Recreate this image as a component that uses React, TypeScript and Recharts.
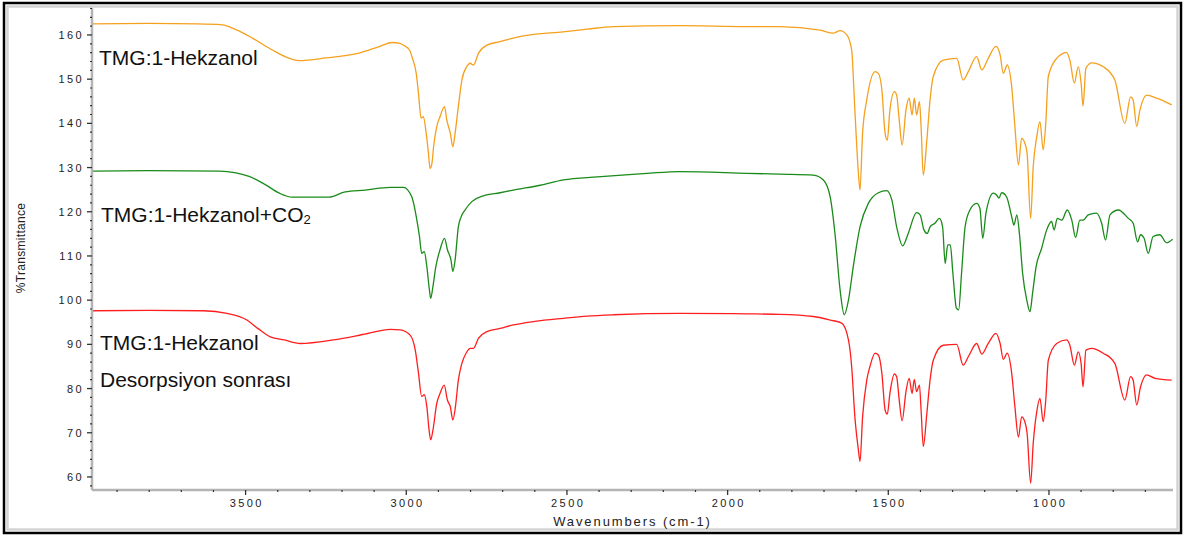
import React from 'react';
import { LineChart, Line, XAxis, YAxis } from 'recharts';

// [wavenumber (cm-1), %T] pairs for each spectrum
const tmgHekzanol: [number, number][] = [
  [3977, 162.5], [3800, 162.6], [3650, 162.5], [3573, 162.3], [3530, 161.2], [3479, 159.3], [3417, 156.6],
  [3377, 155.1], [3333, 154.2], [3250, 154.8], [3147, 155.9], [3080, 157.5], [3044, 158.3], [3020, 158.1],
  [3007, 157.6], [2990, 156.6], [2982, 155.0], [2969, 151.3], [2962, 146.8], [2954, 141.2], [2947, 141.5],
  [2938, 137.8], [2931, 133.2], [2926, 129.8], [2920, 131.0], [2915, 134.7], [2905, 139.3], [2895, 141.5],
  [2881, 143.8], [2874, 140.8], [2863, 137.8], [2855, 134.7], [2848, 137.8], [2838, 143.8], [2827, 149.8],
  [2812, 152.8], [2801, 153.6], [2791, 153.2], [2775, 155.9], [2749, 157.7], [2708, 158.5], [2667, 159.3],
  [2615, 160.0], [2512, 160.7], [2437, 161.3], [2356, 161.9], [2148, 162.1], [1940, 161.9], [1837, 161.9],
  [1712, 161.1], [1671, 160.4], [1650, 161.0], [1629, 160.0], [1614, 156.6], [1604, 143.0], [1593, 128.7],
  [1588, 124.9], [1580, 137.8], [1567, 145.3], [1541, 151.7], [1531, 151.3], [1520, 147.6], [1510, 137.8],
  [1503, 136.2], [1495, 143.0], [1481, 147.2], [1474, 146.4], [1466, 140.8], [1457, 135.1], [1445, 143.0],
  [1435, 145.7], [1426, 141.9], [1419, 145.7], [1412, 141.9], [1403, 144.9], [1398, 139.3], [1391, 128.3],
  [1380, 136.2], [1370, 145.3], [1360, 150.6], [1329, 154.3], [1287, 154.7], [1267, 149.8], [1251, 151.7],
  [1225, 155.1], [1209, 152.1], [1189, 154.7], [1165, 157.4], [1152, 155.5], [1142, 151.3], [1130, 153.2],
  [1116, 148.3], [1106, 139.3], [1095, 130.6], [1085, 136.6], [1075, 135.5], [1068, 133.2], [1057, 118.5],
  [1049, 130.2], [1038, 137.0], [1028, 140.4], [1018, 134.0], [1010, 140.0], [1002, 150.6], [976, 154.7],
  [945, 156.0], [935, 154.3], [921, 149.1], [909, 152.8], [900, 149.1], [894, 143.9], [885, 152.5],
  [867, 153.7], [831, 152.8], [795, 149.8], [764, 140.0], [746, 146.0], [738, 145.3], [727, 139.3],
  [717, 143.0], [696, 146.4], [665, 145.7], [618, 144.2],
];

const tmgHekzanolCO2: [number, number][] = [
  [3977, 129.2], [3800, 129.3], [3582, 129.2], [3530, 128.8], [3489, 128.0], [3440, 126.2], [3395, 124.2],
  [3355, 123.3], [3240, 123.3], [3190, 124.5], [3128, 124.9], [3050, 125.5], [3009, 125.5], [2983, 123.4],
  [2967, 118.1], [2959, 114.4], [2952, 110.6], [2944, 111.0], [2936, 107.6], [2928, 102.3], [2924, 100.4],
  [2917, 103.1], [2908, 107.6], [2895, 111.4], [2881, 114.0], [2872, 111.4], [2861, 109.1], [2855, 106.5],
  [2848, 109.1], [2838, 116.6], [2829, 118.9], [2817, 120.4], [2796, 122.3], [2760, 123.6], [2708, 124.3],
  [2667, 124.9], [2583, 126.0], [2511, 127.2], [2405, 127.9], [2251, 128.7], [2148, 129.1], [1940, 128.7],
  [1837, 128.5], [1733, 128.3], [1702, 127.2], [1681, 123.4], [1666, 115.1], [1650, 102.3], [1637, 96.7],
  [1624, 100.0], [1609, 107.6], [1588, 116.6], [1562, 121.9], [1531, 124.3], [1505, 124.8], [1489, 122.7],
  [1474, 116.6], [1455, 112.3], [1438, 115.1], [1412, 119.8], [1401, 119.3], [1389, 115.9], [1379, 115.1],
  [1370, 116.6], [1355, 117.4], [1341, 118.5], [1331, 116.6], [1323, 108.3], [1315, 112.5], [1307, 112.5],
  [1299, 106.1], [1288, 98.2], [1281, 97.8], [1272, 106.1], [1261, 116.6], [1246, 120.4], [1225, 121.9],
  [1215, 120.8], [1206, 114.0], [1196, 119.7], [1173, 124.2], [1163, 123.8], [1156, 123.1], [1147, 124.3],
  [1132, 123.4], [1116, 118.9], [1109, 117.0], [1100, 119.3], [1092, 115.1], [1082, 106.1], [1069, 100.0],
  [1059, 97.4], [1051, 101.6], [1040, 107.6], [1023, 111.7], [1007, 115.9], [992, 117.8], [984, 115.9],
  [974, 118.5], [960, 118.1], [943, 120.4], [929, 118.1], [917, 114.2], [904, 118.1], [893, 118.1],
  [878, 119.3], [852, 119.7], [836, 117.4], [824, 113.6], [810, 119.3], [784, 120.4], [753, 118.5],
  [738, 117.4], [724, 113.2], [715, 114.8], [704, 114.0], [691, 110.6], [676, 114.4], [655, 114.8],
  [634, 113.0], [615, 113.8],
];

const tmgHekzanolDesorption: [number, number][] = [
  [3977, 97.6], [3800, 97.7], [3632, 97.6], [3558, 97.0], [3496, 95.5], [3460, 93.5], [3423, 91.7],
  [3380, 91.0], [3330, 90.2], [3227, 91.0], [3123, 92.4], [3050, 93.4], [3019, 93.3], [2988, 92.1],
  [2972, 88.7], [2962, 83.5], [2952, 78.2], [2944, 78.6], [2936, 75.9], [2929, 70.6], [2924, 68.4],
  [2917, 70.6], [2905, 76.7], [2895, 78.9], [2882, 80.8], [2872, 77.4], [2863, 75.9], [2855, 72.9],
  [2847, 75.9], [2838, 81.9], [2827, 85.7], [2814, 88.0], [2801, 89.1], [2791, 89.1], [2775, 91.4],
  [2749, 92.9], [2708, 93.6], [2667, 94.4], [2600, 95.2], [2511, 95.9], [2437, 96.4], [2355, 96.7],
  [2148, 97.0], [1940, 96.9], [1837, 96.8], [1733, 96.3], [1681, 95.5], [1645, 94.8], [1624, 91.0],
  [1614, 85.0], [1604, 73.6], [1593, 66.1], [1588, 63.5], [1580, 73.6], [1567, 81.9], [1557, 85.0],
  [1541, 88.0], [1531, 87.6], [1520, 83.5], [1510, 75.2], [1503, 74.2], [1495, 78.9], [1481, 83.3],
  [1474, 82.7], [1466, 77.4], [1457, 72.7], [1445, 79.3], [1435, 82.3], [1426, 78.9], [1419, 82.1],
  [1412, 79.3], [1403, 80.8], [1398, 75.2], [1391, 66.9], [1380, 74.4], [1370, 81.9], [1360, 86.4],
  [1329, 89.8], [1287, 90.0], [1267, 85.3], [1251, 87.2], [1225, 90.2], [1209, 87.8], [1189, 90.2],
  [1165, 92.5], [1152, 90.2], [1142, 86.6], [1130, 88.0], [1116, 83.5], [1106, 75.9], [1095, 69.0],
  [1085, 73.6], [1075, 72.5], [1068, 69.9], [1057, 58.6], [1049, 67.6], [1038, 74.8], [1028, 77.8],
  [1018, 72.5], [1010, 77.4], [1002, 86.4], [976, 90.2], [945, 91.0], [935, 89.8], [921, 85.3],
  [909, 88.3], [900, 85.7], [894, 80.4], [885, 88.7], [867, 89.1], [831, 88.0], [795, 85.7],
  [764, 77.4], [746, 82.7], [738, 81.9], [727, 76.3], [715, 80.4], [696, 83.1], [670, 82.3],
  [618, 81.9],
];

// axis ticks: minor every 100 cm-1 / 2 %T, labelled every 500 / 10
const xTicks = Array.from({ length: 33 }, (_, i) => 700 + i * 100);
const yTicks = Array.from({ length: 55 }, (_, i) => 58 + i * 2);

const toPoints = (pairs: [number, number][]) => pairs.map(([wn, t]) => ({ wn, t }));

const FONT = '"Liberation Sans", Arial, sans-serif';

const XTick = (props: any) => {
  const { x, y, payload } = props;
  const major = payload.value % 500 === 0;
  return (
    <g>
      <line x1={x} x2={x} y1={y} y2={y + (major ? 5 : 2)} stroke="#333" strokeWidth={major ? 1.3 : 1.2} />
      {major && (
        <text x={x + 1.2} y={y + 17} textAnchor="middle" fontSize={11} letterSpacing={2.4} fill="#222" fontFamily={FONT}>
          {payload.value}
        </text>
      )}
    </g>
  );
};

const YTick = (props: any) => {
  const { x, y, payload } = props;
  const major = payload.value % 10 === 0;
  return (
    <g>
      <line x1={x - (major ? 5 : 2)} x2={x} y1={y} y2={y} stroke="#333" strokeWidth={major ? 1.3 : 1.2} />
      {major && (
        <text x={x - 8} y={y + 4} textAnchor="end" fontSize={11} letterSpacing={2.4} fill="#222" fontFamily={FONT}>
          {payload.value}
        </text>
      )}
    </g>
  );
};

export default function App() {
  return (
    <div style={{ position: 'absolute', left: 0, top: 0, width: 1187, height: 535, background: '#fff' }}>
      <LineChart width={1187} height={535} margin={{ top: 8, right: 14, left: 32, bottom: 15 }}>
        <XAxis
          dataKey="wn"
          type="number"
          domain={[614, 3978]}
          reversed
          allowDataOverflow
          ticks={xTicks}
          interval={0}
          height={30}
          tickSize={0}
          tickMargin={0}
          axisLine={{ stroke: '#b4b4b4', strokeWidth: 2.5 }}
          tick={<XTick />}
        />
        <YAxis
          dataKey="t"
          type="number"
          domain={[57.05, 166.1]}
          allowDataOverflow
          ticks={yTicks}
          interval={0}
          width={60}
          tickSize={0}
          tickMargin={0}
          axisLine={{ stroke: '#b4b4b4', strokeWidth: 2.5 }}
          tick={<YTick />}
        />
        <Line data={toPoints(tmgHekzanol)} dataKey="t" type="monotone" stroke="#f5a01e" strokeWidth={1.3} dot={false} isAnimationActive={false} />
        <Line data={toPoints(tmgHekzanolCO2)} dataKey="t" type="monotone" stroke="#1a8a1a" strokeWidth={1.3} dot={false} isAnimationActive={false} />
        <Line data={toPoints(tmgHekzanolDesorption)} dataKey="t" type="monotone" stroke="#ff1e1e" strokeWidth={1.3} dot={false} isAnimationActive={false} />
      </LineChart>
      <svg width={1187} height={535} style={{ position: 'absolute', left: 0, top: 0, pointerEvents: 'none' }} fontFamily={FONT}>
        <rect x={4} y={3} width={1177} height={530} fill="none" stroke="#000" strokeWidth={2.5} />
        <rect x={7.5} y={6.5} width={1170} height={523} fill="none" stroke="#d4d4d4" strokeWidth={2.5} />
        <text x={99} y={65} fontSize={21} fill="#111">TMG:1-Hekzanol</text>
        <text x={101} y={222} fontSize={21} fill="#111">
          TMG:1-Hekzanol+CO<tspan fontSize={13} dy={2}>2</tspan>
        </text>
        <text x={100} y={350} fontSize={21} fill="#111">TMG:1-Hekzanol</text>
        <text x={100} y={387} fontSize={21} fill="#111">Desorpsiyon sonrası</text>
        <text x={632.5} y={526} fontSize={13} letterSpacing={1.9} textAnchor="middle" fill="#222">Wavenumbers (cm-1)</text>
        <text transform="translate(25 248) rotate(-90)" fontSize={12} letterSpacing={0.3} textAnchor="middle" fill="#222">%Transmittance</text>
      </svg>
    </div>
  );
}
